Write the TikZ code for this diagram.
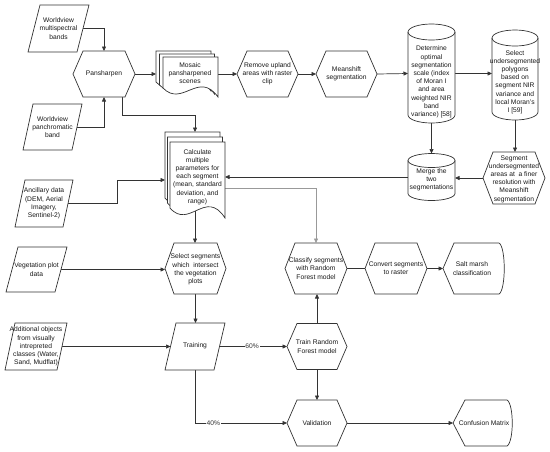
\documentclass[tikz,border=0pt]{standalone}
\usepackage{fontspec}
\setmainfont{Liberation Sans}
\usetikzlibrary{arrows.meta}
\newcommand\hexo[2]{\draw[shp] (#1.west) -- ([xshift=#2pt]#1.north west) -- ([xshift=-#2pt]#1.north east) -- (#1.east) -- ([xshift=-#2pt]#1.south east) -- ([xshift=#2pt]#1.south west) -- cycle;}
\newcommand\paro[2]{\draw[shp] (#1.south west) -- ([xshift=#2pt]#1.north west) -- (#1.north east) -- ([xshift=-#2pt]#1.south east) -- cycle;}
\newcommand\cylo[3]{\draw[shp] ([yshift=-#3pt]#1.north west) -- ([yshift=#3pt]#1.south west) arc[start angle=180,end angle=360,x radius=#2pt,y radius=#3pt] -- ([yshift=-#3pt]#1.north east) arc[start angle=0,end angle=180,x radius=#2pt,y radius=#3pt] -- cycle;
\draw[shp,fill=none] ([yshift=-#3pt]#1.north west) arc[start angle=180,end angle=360,x radius=#2pt,y radius=#3pt];}
\newcommand\dispo[2]{\draw[shp] (#1.west) -- ([xshift=#2pt]#1.north west) -- ([xshift=-6pt]#1.north east) .. controls ([xshift=1pt,yshift=-4pt]#1.north east) and ([xshift=1pt,yshift=4pt]#1.south east) .. ([xshift=-6pt]#1.south east) -- ([xshift=#2pt]#1.south west) -- cycle;}
\newcommand\docpg[5]{\draw[shp] (#1,#2) -- (#3,#2) -- (#3,#4) .. controls ({#3-0.35*(#3-#1)},{#4-3*#5}) and ({#1+0.35*(#3-#1)},{#4+1.2*#5}) .. (#1,{#4-#5}) -- cycle;}
\begin{document}
\begin{tikzpicture}[x=1pt,y=-1pt,
  bx/.style 2 args={inner sep=0pt,outer sep=0pt,minimum width=#1pt,minimum height=#2pt},
  shp/.style={draw=black!80,line width=0.7pt,fill=white},
  txt/.style={align=center,font=\fontsize{6.7}{8.2}\selectfont,inner sep=0pt,text=black!90},
  ln/.style={draw=black!80,line width=0.7pt},
  arr/.style={ln,-{Triangle[length=4.5pt,width=4pt]}},
  lbl/.style={font=\fontsize{6.7}{8.2}\selectfont,fill=white,inner sep=0.8pt,text=black!80}]
\useasboundingbox (0,0) rectangle (550,451);
% anchor boxes
\node[bx={61}{47}] (wvm) at (58.5,28.5) {};
\node[bx={62}{46}] (pan) at (104,74) {};
\node[bx={59}{46}] (wvp) at (52.5,127) {};
\node[bx={62}{46}] (mos) at (187,74) {};
\node[bx={61}{46}] (rem) at (267.5,74) {};
\node[bx={61}{46}] (mea) at (346.5,74) {};
\node[bx={47}{99}] (det) at (431.5,73.5) {};
\node[bx={46}{90}] (sel) at (515,75) {};
\node[bx={62}{52}] (seg) at (514,178) {};
\node[bx={47}{47}] (mer) at (431.5,177) {};
\node[bx={60}{86}] (calc) at (195,175) {};
\node[bx={58}{47}] (anc) at (44,203.5) {};
\node[bx={61}{45}] (veg) at (36.5,269.5) {};
\node[bx={61}{51}] (ssel) at (195.5,268.5) {};
\node[bx={62}{47}] (add) at (36,346.5) {};
\node[bx={60}{47}] (tra) at (195,346.5) {};
\node[bx={60}{46}] (trf) at (317,346.5) {};
\node[bx={60}{46}] (val) at (317,423) {};
\node[bx={60}{46}] (con) at (483,423) {};
\node[bx={62}{51}] (cla) at (316,268.5) {};
\node[bx={62}{51}] (cnv) at (396,268.5) {};
\node[bx={62}{51}] (sal) at (474,268.5) {};
\coordinate (ka) at (117,180);
% connectors
\draw[arr] (wvm.center) -| (pan.north);
\draw[arr] (wvp.center) -| (pan.south);
\draw[arr] (pan.east) -- (mos.west);
\draw[arr] (mos.east) -- (rem.west);
\draw[arr] (rem.east) -- (mea.west);
\draw[arr] (mea.east) -- (det.east -| det.west);
\draw[arr] (det.east) -- (det.east -| sel.west);
\draw[arr] (sel.south) -- (sel.south |- seg.north);
\draw[arr] (det.center) -- (mer.north);
\draw[arr] (seg.center) -- (seg.center -| mer.east);
\draw[arr] (mer.center) -- (mer.center -| calc.east);
\draw[arr,draw=black!40] ([yshift=-13pt]calc.east) -| (cla.north);
\draw[arr] ([xshift=18pt]pan.south) -- ++(0,18) -| (calc.north);
\draw[arr] (anc.center) -| (ka) -- (ka -| calc.west);
\draw[arr] (calc.center) -- (calc.center |- ssel.north);
\draw[arr] (veg.center) -- (veg.center -| ssel.west);
\draw[arr] (ssel.south) -- (ssel.south |- tra.north);
\draw[arr] (add.center) -- ([xshift=5.5pt]tra.west);
\draw[arr] (tra.center) -- node[lbl,pos=0.62] (l60) {60\%} (trf.west);
\draw[arr] (tra.center) |- node[lbl,pos=0.6] (l40) {40\%} (val.west);
\draw[arr] (trf.north) -- (trf.north |- cla.south);
\draw[arr] (trf.south) -- (val.north);
\draw[arr] (val.east) -- (con.west);
\draw[ln] (cla.east) -- (cnv.west);
\draw[arr] (cnv.east) -- (sal.west);
% shapes
\paro{wvm}{12}
\hexo{pan}{10}
\paro{wvp}{10}
\docpg{156}{51}{211}{91}{9}
\docpg{159.5}{54}{214.5}{94}{9}
\docpg{163}{57}{218}{97}{9}
\hexo{rem}{10}
\hexo{mea}{10}
\cylo{det}{23.5}{8}
\cylo{sel}{23}{8}
\hexo{seg}{10}
\cylo{mer}{23.5}{7}
\docpg{165}{132}{220}{208}{10}
\docpg{167.5}{137}{222.5}{213}{10}
\docpg{170}{142}{225}{218}{10}
\paro{anc}{10}
\paro{veg}{12}
\hexo{ssel}{9}
\paro{add}{10}
\paro{tra}{11}
\hexo{trf}{10}
\hexo{val}{10}
\dispo{con}{12}
\hexo{cla}{10}
\hexo{cnv}{10}
\dispo{sal}{11}
% texts
\node[txt] (t-wvm) at (58.5,28.5) {Worldview\\multispectral\\bands};
\node[txt] (t-pan) at (104,74) {Pansharpen};
\node[txt] (t-wvp) at (52.5,127) {Worldview\\panchromatic\\band};
\node[txt] (t-mos) at (190,73) {Mosaic\\pansharpened\\scenes};
\node[txt] (t-rem) at (267.5,74) {Remove upland\\areas with raster\\clip};
\node[txt] (t-mea) at (346.5,74) {Meanshift\\segmentation};
\node[txt] (t-det) at (431.5,82) {Determine\\optimal\\segmentation\\scale (index\\of Moran I\\and area\\weighted NIR\\band\\variance) [58]};
\node[txt] (t-sel) at (515,82) {Select\\undersegmented\\polygons\\based on\\segment NIR\\variance and\\local Moran's\\I [59]};
\node[txt] (t-seg) at (514,179) {Segment\\undersegmented\\areas at\ \ a finer\\resolution with\\Meanshift\\segmentation};
\node[txt] (t-mer) at (431.5,180) {Merge the\\two\\segmentations};
\node[txt] (t-calc) at (197.5,177) {Calculate\\multiple\\parameters for\\each segment\\(mean, standard\\deviation, and\\range)};
\node[txt] (t-anc) at (44,203.5) {Ancillary data\\(DEM, Aerial\\Imagery,\\Sentinel-2)};
\node[txt] (t-veg) at (36.5,269.5) {Vegetation plot\\data};
\node[txt] (t-ssel) at (195.5,269.5) {Select segments\\which\ \ intersect\\the vegetation\\plots};
\node[txt] (t-add) at (36,346.5) {Additional objects\\from visually\\intrepreted\\classes (Water,\\Sand, Mudflat)};
\node[txt] (t-tra) at (195,346) {Training};
\node[txt] (t-trf) at (317,346.5) {Train Random\\Forest model};
\node[txt] (t-val) at (317,423) {Validation};
\node[txt] (t-con) at (484,423) {Confusion Matrix};
\node[txt] (t-cla) at (316,268.5) {Classify segments\\with Random\\Forest model};
\node[txt] (t-cnv) at (396,268.5) {Convert segments\\to raster};
\node[txt] (t-sal) at (472,268.5) {Salt marsh\\classification};
\end{tikzpicture}
\end{document}
